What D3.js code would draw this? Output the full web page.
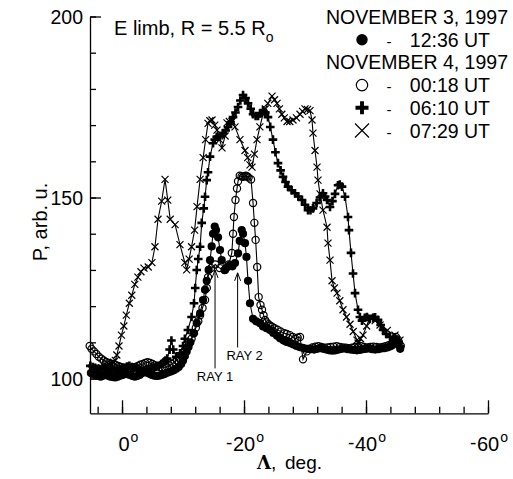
<!DOCTYPE html>
<html>
<head>
<meta charset="utf-8">
<script src="https://cdn.jsdelivr.net/npm/d3@7"></script>
<style>
body { margin: 0; background: #fff; }
text { font-family: "Liberation Sans", Arial, sans-serif; fill: #000; }
</style>
</head>
<body>
<svg id="chart" width="513" height="479"></svg>
<script>
// Nov 3, 1997, 12:36 UT  (filled circles)  [lambda, P]
var nov3_1236 = [[5.1,101.5],[4.7,101.2],[4.3,101],[3.9,100.7],[3.5,100.5],[3.1,100.8],[2.7,101],[2.3,100.8],[1.9,100.5],[1.5,100.4],[1.1,100.3],[0.7,100.5],[0.3,100.8],[-0.1,101],[-0.5,101.3],[-0.9,101.2],[-1.3,101],[-1.7,100.7],[-2.1,100.5],[-2.5,100.7],[-2.9,101],[-3.3,101.5],[-3.7,101.8],[-4.1,101.6],[-4.5,101.3],[-4.9,101],[-5.3,100.8],[-5.7,100.7],[-6.1,100.8],[-6.5,101],[-6.9,101.2],[-7.3,101.5],[-7.7,101.8],[-8.1,102],[-8.5,102.3],[-8.9,102.7],[-9.3,103.2],[-9.7,104],[-10.0,105],[-10.3,106.2],[-10.6,107.5],[-10.9,108.7],[-11.2,110],[-11.7,112.5],[-12.25,115.3],[-12.8,118],[-13.28,121.7],[-13.6,124.5],[-13.89,127],[-14.2,130],[-14.43,132.7],[-14.7,136.5],[-14.92,140],[-15.2,142],[-15.41,141],[-15.74,139],[-16.07,135.5],[-16.34,132.7],[-16.89,130],[-17.3,130.8],[-17.7,131.3],[-18.1,131],[-18.52,131.9],[-19.02,134.6],[-19.3,138],[-19.62,141],[-19.84,140],[-20.16,137.4],[-20.4,133.6],[-20.66,127],[-20.98,120.8],[-21.48,116.5],[-22.0,115.8],[-22.62,115.3],[-23.11,114.4],[-23.7,113.9],[-24.26,113.4],[-24.8,112.6],[-25.41,111.8],[-25.9,111.1],[-26.5,110.5],[-27.0,110.1],[-27.54,109.8],[-28.1,109.4],[-28.6,109],[-29.1,108.7],[-29.6,108.5],[-30.0,108.3],[-30.5,108.2],[-31.0,108.1],[-31.5,108],[-32.0,108.2],[-32.5,108.4],[-33.0,108.2],[-33.5,108],[-34.0,107.8],[-34.5,107.7],[-35.0,107.8],[-35.5,108],[-36.0,108.2],[-36.5,108.3],[-37.0,108.1],[-37.5,108],[-38.0,107.9],[-38.5,107.8],[-39.0,107.9],[-39.5,108.1],[-40.0,108.2],[-40.5,108.3],[-41.0,108.1],[-41.5,108],[-42.0,108.1],[-42.5,108.3],[-43.0,108.4],[-43.5,108.6],[-44.0,108.9],[-44.3,109.2],[-44.6,110],[-44.8,110.8],[-45.1,110],[-45.3,109.5],[-45.6,108.2]];

// Nov 4, 1997, 00:18 UT  (open circles)
var nov4_0018 = [[5.3,109],[5.0,108.2],[4.6,107.5],[4.2,106.8],[3.8,106],[3.4,105.5],[3.0,105],[2.6,104.6],[2.2,104.3],[1.8,104.1],[1.4,104],[1.0,103.7],[0.6,103.5],[0.2,103.2],[-0.2,103],[-0.6,102.9],[-1.0,102.8],[-1.4,102.9],[-1.8,103],[-2.2,103.2],[-2.6,103.5],[-3.0,103.8],[-3.4,104],[-3.8,104.3],[-4.2,104.5],[-4.6,104.3],[-5.0,104],[-5.4,103.7],[-5.8,103.5],[-6.2,103.2],[-6.6,103],[-7.0,103.1],[-7.4,103.2],[-7.8,103.6],[-8.2,104],[-8.6,104.5],[-9.0,105],[-9.4,105.7],[-9.8,106.5],[-10.2,107.5],[-10.6,108.5],[-11.0,109.7],[-11.4,111],[-11.8,112.5],[-12.1,114],[-12.5,115.8],[-12.8,117.5],[-13.2,119.5],[-13.61,121.7],[-13.9,125],[-14.1,128],[-14.6,130.5],[-15.3,131.5],[-16.0,130.5],[-16.8,130],[-17.5,131.5],[-18.0,134.7],[-18.2,140],[-18.35,144.6],[-18.6,149.3],[-18.85,152.5],[-19.02,154.5],[-19.3,156],[-19.6,155.8],[-19.84,155.7],[-20.1,155.9],[-20.3,156],[-20.55,155.8],[-20.75,155.5],[-21.15,155],[-21.48,148.5],[-21.7,143],[-21.9,138.3],[-22.16,130.8],[-22.4,122.5],[-22.7,120.3],[-22.95,119],[-23.2,117.5],[-23.44,116.2],[-23.7,115.5],[-24.0,115],[-24.3,114.6],[-24.59,114.3],[-25.0,113.9],[-25.5,113.5],[-26.0,113],[-26.6,112.5],[-27.0,112.3],[-27.5,112],[-28.0,111.5],[-28.4,111],[-28.8,111.3],[-29.18,111.5],[-29.67,105.3],[-30.3,107.5],[-30.7,108.2],[-31.2,108.6],[-31.7,108.8],[-32.2,108.9],[-32.7,108.7],[-33.2,108.5],[-33.7,108.6],[-34.2,108.7],[-34.7,108.8],[-35.2,108.9],[-35.7,108.7],[-36.2,108.6],[-36.7,108.5],[-37.2,108.4],[-37.7,108.5],[-38.2,108.7],[-38.7,108.8],[-39.2,108.9],[-39.7,108.7],[-40.2,108.6],[-40.7,108.7],[-41.2,108.8],[-41.7,108.7],[-42.2,108.6],[-42.7,108.7],[-43.2,108.9],[-43.7,109.2],[-44.2,109.5],[-44.6,110.5],[-44.9,111.5],[-45.2,110.8],[-45.4,110],[-45.7,109]];

// Nov 4, 1997, 06:10 UT  (plus)
var nov4_0610 = [[5.2,103.5],[4.8,103.2],[4.4,103],[4.0,102.7],[3.6,102.5],[3.2,102.8],[2.8,103],[2.4,102.8],[2.0,102.5],[1.6,102.2],[1.2,102],[0.8,102.2],[0.4,102.5],[0.0,102.8],[-0.4,103],[-0.8,103.3],[-1.2,103.5],[-1.6,103.2],[-2.0,103],[-2.4,102.8],[-2.8,102.5],[-3.2,102.2],[-3.6,102],[-4.0,102.2],[-4.4,102.5],[-4.8,102.8],[-5.2,103],[-5.6,103.2],[-6.0,103.5],[-6.4,104],[-6.8,104.5],[-7.1,105],[-7.4,105.5],[-7.8,108],[-8.1,110.5],[-8.4,108],[-8.9,106],[-9.5,107],[-10.0,109],[-10.3,111],[-10.8,113.4],[-11.4,117],[-11.8,120.8],[-12.0,125],[-12.25,130],[-12.5,133],[-12.8,136.4],[-13.07,143],[-13.4,147],[-13.61,150.2],[-13.89,154.8],[-14.1,157],[-14.43,161.3],[-14.92,165],[-15.2,166],[-15.52,166.8],[-16.0,167],[-16.56,167.8],[-17.0,168.5],[-17.38,169.5],[-17.8,170.8],[-18.2,172.2],[-18.6,173.5],[-19.02,175],[-19.4,176.8],[-19.84,178.3],[-20.25,177.5],[-20.66,176],[-21.1,174.5],[-21.48,173],[-21.9,172.5],[-22.3,172.5],[-22.7,173.3],[-23.11,174],[-23.5,173.5],[-23.93,172.2],[-24.3,169.5],[-24.75,166],[-25.15,162.5],[-25.57,159.5],[-26.0,157.5],[-26.39,155.7],[-26.8,154.3],[-27.21,153],[-27.8,152],[-28.36,151.2],[-28.9,150.3],[-29.51,149.3],[-30.0,148],[-30.49,146.5],[-30.9,146.5],[-31.31,147],[-31.9,148.5],[-32.46,150],[-32.95,151.2],[-33.3,150.3],[-33.61,149.3],[-34.1,147.4],[-34.5,149],[-34.92,151],[-35.41,153.4],[-35.7,153.6],[-36.07,153],[-36.56,150.2],[-37.05,144.6],[-37.21,141],[-37.54,134.7],[-37.87,129],[-38.2,123.6],[-38.69,119],[-39.0,117],[-39.34,116],[-39.8,116.8],[-40.16,117],[-40.6,116.5],[-41.15,116.7],[-41.5,116.9],[-41.97,116.2],[-42.4,114.8],[-42.79,113.4],[-43.3,112.3],[-43.93,111.5],[-44.5,111],[-45.08,110.6],[-45.57,109]];

// Nov 4, 1997, 07:29 UT  (cross)
var nov4_0729 = [[4.9,103],[4.5,102.7],[4.1,102.5],[3.7,102.8],[3.3,103],[2.9,103.2],[2.5,103.5],[2.1,103.8],[1.7,104],[1.4,104.5],[1.1,105],[0.85,106.5],[0.5,109],[0.1,112],[-0.3,114.5],[-0.7,117.5],[-1.2,120.8],[-1.6,123],[-2.1,126],[-2.6,128],[-3.1,129.5],[-3.6,130.5],[-4.3,130.8],[-4.9,132],[-5.4,136.4],[-5.9,144],[-6.5,149],[-7.05,155],[-7.5,149.3],[-7.9,144],[-8.7,142.5],[-9.5,137],[-10.3,132],[-10.6,130],[-11.0,133],[-11.4,136.4],[-11.9,141],[-12.3,147.5],[-12.8,155],[-13.3,161],[-13.7,166],[-14.1,170.5],[-14.4,171.2],[-14.75,171.4],[-15.2,170],[-15.57,168.6],[-16.0,166],[-16.39,163.7],[-16.9,167],[-17.21,170.6],[-17.6,171],[-18.03,171],[-18.52,169.5],[-19.34,166],[-20.16,163],[-20.6,161],[-20.98,159],[-21.31,158.4],[-21.7,162],[-22.13,166],[-22.6,169.5],[-23.11,173],[-23.5,174.5],[-23.9,176],[-24.59,178],[-25.0,177],[-25.41,176],[-25.8,174.5],[-26.2,173],[-26.6,172],[-27.05,171],[-27.5,171],[-28.03,171.4],[-28.6,172],[-29.18,173],[-29.6,173.8],[-30.0,174.5],[-30.4,174.3],[-30.82,174],[-31.15,171.4],[-31.31,167.8],[-31.64,163],[-31.97,158.4],[-32.13,154.8],[-32.46,151],[-32.95,146.5],[-33.61,141.8],[-33.77,137.4],[-34.1,132.7],[-34.43,127],[-34.8,125],[-35.25,123.6],[-35.7,121.5],[-36.23,119],[-36.8,117],[-37.38,115],[-37.9,113],[-38.52,110.6],[-38.69,109.8],[-39.1,111],[-39.51,112],[-40.1,114.5],[-40.66,117],[-41.5,116],[-42.3,114.8],[-43.5,113.3],[-44.75,112],[-45.57,110.6]];

var xMinorTicks = d3.range(4, -61, -4);
var xMajorTicks = [0, -20, -40, -60];
var yMinorTicks = d3.range(100, 201, 10);
var yMajorTicks = [100, 150, 200];

var legendRows = [
  {head: 'NOVEMBER 3, 1997'},
  {kind: 'filled', label: '12:36 UT'},
  {head: 'NOVEMBER 4, 1997'},
  {kind: 'open', label: '00:18 UT'},
  {kind: 'plus', label: '06:10 UT'},
  {kind: 'cross', label: '07:29 UT'}
];

// rays: lambda of the arrow, P of tip and of foot
var rays = [
  {name: 'RAY 1', lam: -15.25, tip: 130, foot: 102.8, textDx: 0, textY: 380.5},
  {name: 'RAY 2', lam: -18.95, tip: 129.2, foot: 108.6, textDx: 7, textY: 359.5}
];

var svg = d3.select('#chart');

var x = d3.scaleLinear().domain([5.25, -60]).range([90, 488]);
var y = d3.scaleLinear().domain([90.4, 200]).range([413.3, 16.5]);

// axes
var gx = svg.append('g').attr('transform', 'translate(0,413.3)')
  .call(d3.axisBottom(x).tickValues(xMinorTicks).tickSizeInner(-6.5).tickSizeOuter(0).tickFormat(''));
var gx2 = svg.append('g').attr('transform', 'translate(0,413.3)')
  .call(d3.axisBottom(x).tickValues(xMajorTicks).tickSizeInner(-13).tickSizeOuter(0).tickFormat(''));
gx2.select('.domain').remove();

var gy = svg.append('g').attr('transform', 'translate(90,0)')
  .call(d3.axisLeft(y).tickValues(yMinorTicks).tickSizeInner(-6).tickSizeOuter(0).tickFormat(''));
var gy2 = svg.append('g').attr('transform', 'translate(90,0)')
  .call(d3.axisLeft(y).tickValues(yMajorTicks).tickSizeInner(-11).tickSizeOuter(0).tickFormat(''));
gy2.select('.domain').remove();

svg.selectAll('.domain, .tick line').attr('stroke', '#000').attr('stroke-width', 1.3);

// y tick labels
svg.selectAll('text.ylab').data(yMajorTicks).enter()
  .append('text').attr('class', 'ylab')
  .attr('x', 83).attr('y', function(d){ return y(d) + 7; })
  .attr('text-anchor', 'end').attr('font-size', '19.5px')
  .text(function(d){ return d; });

// x tick labels: digits centred, leading dot for negative, superscript o
xMajorTicks.forEach(function(d){
  var cx = x(d) + (d === 0 ? 2 : 0);
  var t = svg.append('text').attr('x', cx).attr('y', 451)
    .attr('text-anchor', 'middle').attr('font-size', '20px')
    .text(Math.abs(d));
  var w = t.node().getComputedTextLength();
  svg.append('text').attr('x', cx + w/2 + 1).attr('y', 441.5)
    .attr('font-size', '14px').text('o');
  if(d < 0){
    svg.append('text').attr('x', cx - w/2 - 0.5).attr('y', 448.5)
      .attr('text-anchor', 'end').attr('font-size', '19px').text('-');
  }
});

// axis titles
var xt = svg.append('text').attr('y', 469).attr('font-size', '19px');
xt.append('tspan').attr('x', 257).attr('font-family', '"DejaVu Serif", serif').attr('font-weight', 'bold').attr('font-size', '18px').text('Λ');
xt.append('tspan').text(',');
xt.append('tspan').attr('x', 285).text('deg.');

svg.append('text')
  .attr('transform', 'translate(47,222) rotate(-90)')
  .attr('text-anchor', 'middle').attr('font-size', '20px')
  .text('P, arb. u.');

// title
var tt = svg.append('text').attr('x', 114).attr('y', 35).attr('font-size', '20px');
tt.append('tspan').text('E limb, R = 5.5 R');
tt.append('tspan').attr('font-size', '14px').attr('dy', 7).text('o');

// markers
function marker(g, kind, cx, cy, s){
  if(kind === 'filled'){
    g.append('circle').attr('cx', cx).attr('cy', cy).attr('r', s).attr('fill', '#000');
  } else if(kind === 'open'){
    g.append('circle').attr('cx', cx).attr('cy', cy).attr('r', s)
      .attr('fill', 'none').attr('stroke', '#000').attr('stroke-width', 1.2);
  } else if(kind === 'plus'){
    g.append('path').attr('d', 'M' + (cx - s) + ',' + cy + 'H' + (cx + s) + 'M' + cx + ',' + (cy - s) + 'V' + (cy + s))
      .attr('stroke', '#000').attr('stroke-width', s * 0.6).attr('fill', 'none');
  } else {
    g.append('path').attr('d', 'M' + (cx - s) + ',' + (cy - s) + 'L' + (cx + s) + ',' + (cy + s) + 'M' + (cx - s) + ',' + (cy + s) + 'L' + (cx + s) + ',' + (cy - s))
      .attr('stroke', '#000').attr('stroke-width', 1.2).attr('fill', 'none');
  }
}

var line = d3.line().x(function(d){ return x(d[0]); }).y(function(d){ return y(d[1]); });

var series = [
  {data: nov4_0729, kind: 'cross', size: 3.5},
  {data: nov4_0018, kind: 'open', size: 3.6},
  {data: nov4_0610, kind: 'plus', size: 4.3},
  {data: nov3_1236, kind: 'filled', size: 4.1}
];

series.forEach(function(s){
  var g = svg.append('g');
  g.append('path').datum(s.data).attr('d', line)
    .attr('fill', 'none').attr('stroke', '#000').attr('stroke-width', 1.1);
  s.data.forEach(function(d){ marker(g, s.kind, x(d[0]), y(d[1]), s.size); });
});

// rays
rays.forEach(function(r){
  var rx = x(r.lam), ty = y(r.tip);
  svg.append('path')
    .attr('d', 'M' + rx + ',' + y(r.foot) + 'V' + ty + 'M' + (rx - 3) + ',' + (ty + 8) + 'L' + rx + ',' + ty + 'L' + (rx + 3) + ',' + (ty + 8))
    .attr('stroke', '#000').attr('stroke-width', 1).attr('fill', 'none');
  svg.append('text').attr('x', rx + r.textDx).attr('y', r.textY)
    .attr('text-anchor', 'middle').attr('font-size', '13px').text(r.name);
});

// legend
legendRows.forEach(function(row, i){
  var by = 24 + i * 22.7;
  if(row.head){
    svg.append('text').attr('x', 508).attr('y', by).attr('text-anchor', 'end')
      .attr('font-size', '19.5px').text(row.head);
  } else {
    var g = svg.append('g');
    marker(g, row.kind, 362, by - 7, row.kind === 'plus' ? 6.5 : (row.kind === 'cross' ? 7 : 5.7));
    svg.append('text').attr('x', 389).attr('y', by).attr('text-anchor', 'middle')
      .attr('font-size', '15px').text('-');
    svg.append('text').attr('x', 490).attr('y', by).attr('text-anchor', 'end')
      .attr('font-size', '19.5px').text(row.label);
  }
});
</script>
</body>
</html>
